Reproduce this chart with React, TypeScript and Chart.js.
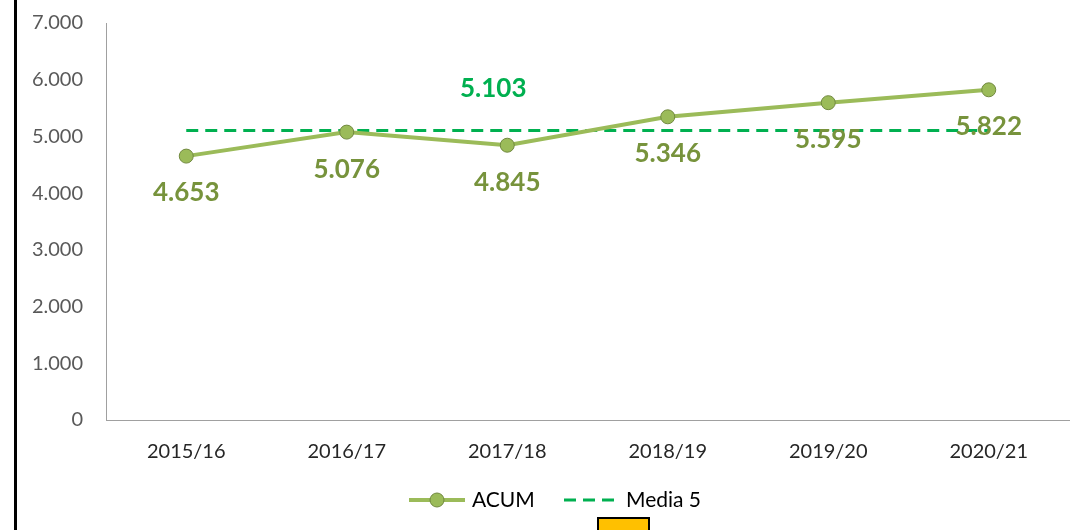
import React, { useEffect, useRef } from "react";
import { Chart, registerables } from "chart.js";

Chart.register(...registerables);

const categories = ["2015/16", "2016/17", "2017/18", "2018/19", "2019/20", "2020/21"];
const acum = [4653, 5076, 4845, 5346, 5595, 5822];
const media5 = [5103, 5103, 5103, 5103, 5103, 5103];
const yTicks = [0, 1000, 2000, 3000, 4000, 5000, 6000, 7000];
const mediaLabelIndex = 2;

const fmt = (v: number) => String(Math.round(v)).replace(/\B(?=(\d{3})+(?!\d))/g, ".");

const LINE_GREEN = "#9BBB59";
const LABEL_GREEN = "#77933C";
const MEDIA_GREEN = "#00B050";

const labelsPlugin = {
  id: "customLabels",
  afterDatasetsDraw(chart: any) {
    const ctx = chart.ctx;
    ctx.save();
    ctx.textAlign = "center";
    ctx.textBaseline = "middle";
    ctx.font = "bold 26px Lato";
    const meta0 = chart.getDatasetMeta(0);
    meta0.data.forEach((pt: any, i: number) => {
      ctx.fillStyle = LABEL_GREEN;
      ctx.fillText(fmt(acum[i]), pt.x, pt.y + 37);
    });
    const meta1 = chart.getDatasetMeta(1);
    const p = meta1.data[mediaLabelIndex];
    ctx.fillStyle = MEDIA_GREEN;
    ctx.fillText(fmt(media5[mediaLabelIndex]), p.x - 14, p.y - 42);
    ctx.restore();
  },
};

const legendPlugin = {
  id: "customLegend",
  afterDraw(chart: any) {
    const ctx = chart.ctx;
    const y = 500;
    ctx.save();
    ctx.strokeStyle = LINE_GREEN;
    ctx.lineWidth = 4;
    ctx.beginPath();
    ctx.moveTo(409, y);
    ctx.lineTo(465, y);
    ctx.stroke();
    ctx.beginPath();
    ctx.arc(437, y, 7, 0, Math.PI * 2);
    ctx.fillStyle = LINE_GREEN;
    ctx.fill();
    ctx.lineWidth = 1;
    ctx.strokeStyle = "#71893F";
    ctx.stroke();
    ctx.fillStyle = "#000";
    ctx.font = "21px Lato";
    ctx.textBaseline = "middle";
    ctx.textAlign = "left";
    ctx.fillText("ACUM", 472, y);
    ctx.strokeStyle = MEDIA_GREEN;
    ctx.lineWidth = 3;
    ctx.setLineDash([12, 7]);
    ctx.beginPath();
    ctx.moveTo(564, y);
    ctx.lineTo(620, y);
    ctx.stroke();
    ctx.setLineDash([]);
    ctx.fillText("Media 5", 626, y);
    ctx.restore();
  },
};

export default function App() {
  const ref = useRef<HTMLCanvasElement | null>(null);
  useEffect(() => {
    if (!ref.current) return;
    const chart = new Chart(ref.current, {
      type: "line",
      data: {
        labels: categories,
        datasets: [
          {
            label: "ACUM",
            data: acum,
            borderColor: LINE_GREEN,
            backgroundColor: LINE_GREEN,
            borderWidth: 4,
            pointRadius: 7,
            pointBackgroundColor: LINE_GREEN,
            pointBorderColor: "#71893F",
            pointBorderWidth: 1,
            tension: 0,
          },
          {
            label: "Media 5",
            data: media5,
            borderColor: MEDIA_GREEN,
            borderWidth: 3,
            borderDash: [12, 7],
            pointRadius: 0,
            tension: 0,
          },
        ],
      },
      options: {
        animation: false,
        responsive: false,
        maintainAspectRatio: false,
        layout: { padding: { top: 23, right: 5, left: 0, bottom: 0 } },
        plugins: { legend: { display: false }, tooltip: { enabled: false } },
        scales: {
          x: {
            offset: true,
            grid: { display: false, drawTicks: false },
            border: { display: true, color: "#A0A0A0", width: 1 },
            ticks: { color: "#262626", font: { family: "Lato", size: 20 }, padding: 20, maxRotation: 0 },
            afterFit: (s: any) => {
              s.height = 110;
              s.paddingLeft = 0;
              s.paddingRight = 0;
            },
          },
          y: {
            min: 0,
            max: 7000,
            grid: { display: false, drawTicks: false },
            border: { display: true, color: "#A0A0A0", width: 1 },
            afterBuildTicks: (s: any) => { s.ticks = yTicks.map((v) => ({ value: v })); },
            ticks: {
              color: "#595959",
              font: { family: "Lato", size: 20 },
              padding: 23,
              callback: (v: any) => fmt(Number(v)),
            },
            afterFit: (s: any) => {
              s.width = 106;
              s.paddingTop = 0;
              s.paddingBottom = 0;
            },
          },
        },
      },
      plugins: [labelsPlugin, legendPlugin],
    });
    return () => chart.destroy();
  }, []);

  return (
    <div style={{ position: "fixed", left: 0, top: 0, width: 1077, height: 530, background: "#fff", overflow: "hidden" }}>
      <canvas ref={ref} width={1077} height={530} style={{ position: "absolute", left: 0, top: 0 }} />
      <div style={{ position: "absolute", left: 14, top: 0, width: 3, height: 530, background: "#000" }} />
      <div style={{ position: "absolute", left: 597, top: 517, width: 49, height: 20, background: "#FFC000", border: "2px solid #000" }} />
    </div>
  );
}
